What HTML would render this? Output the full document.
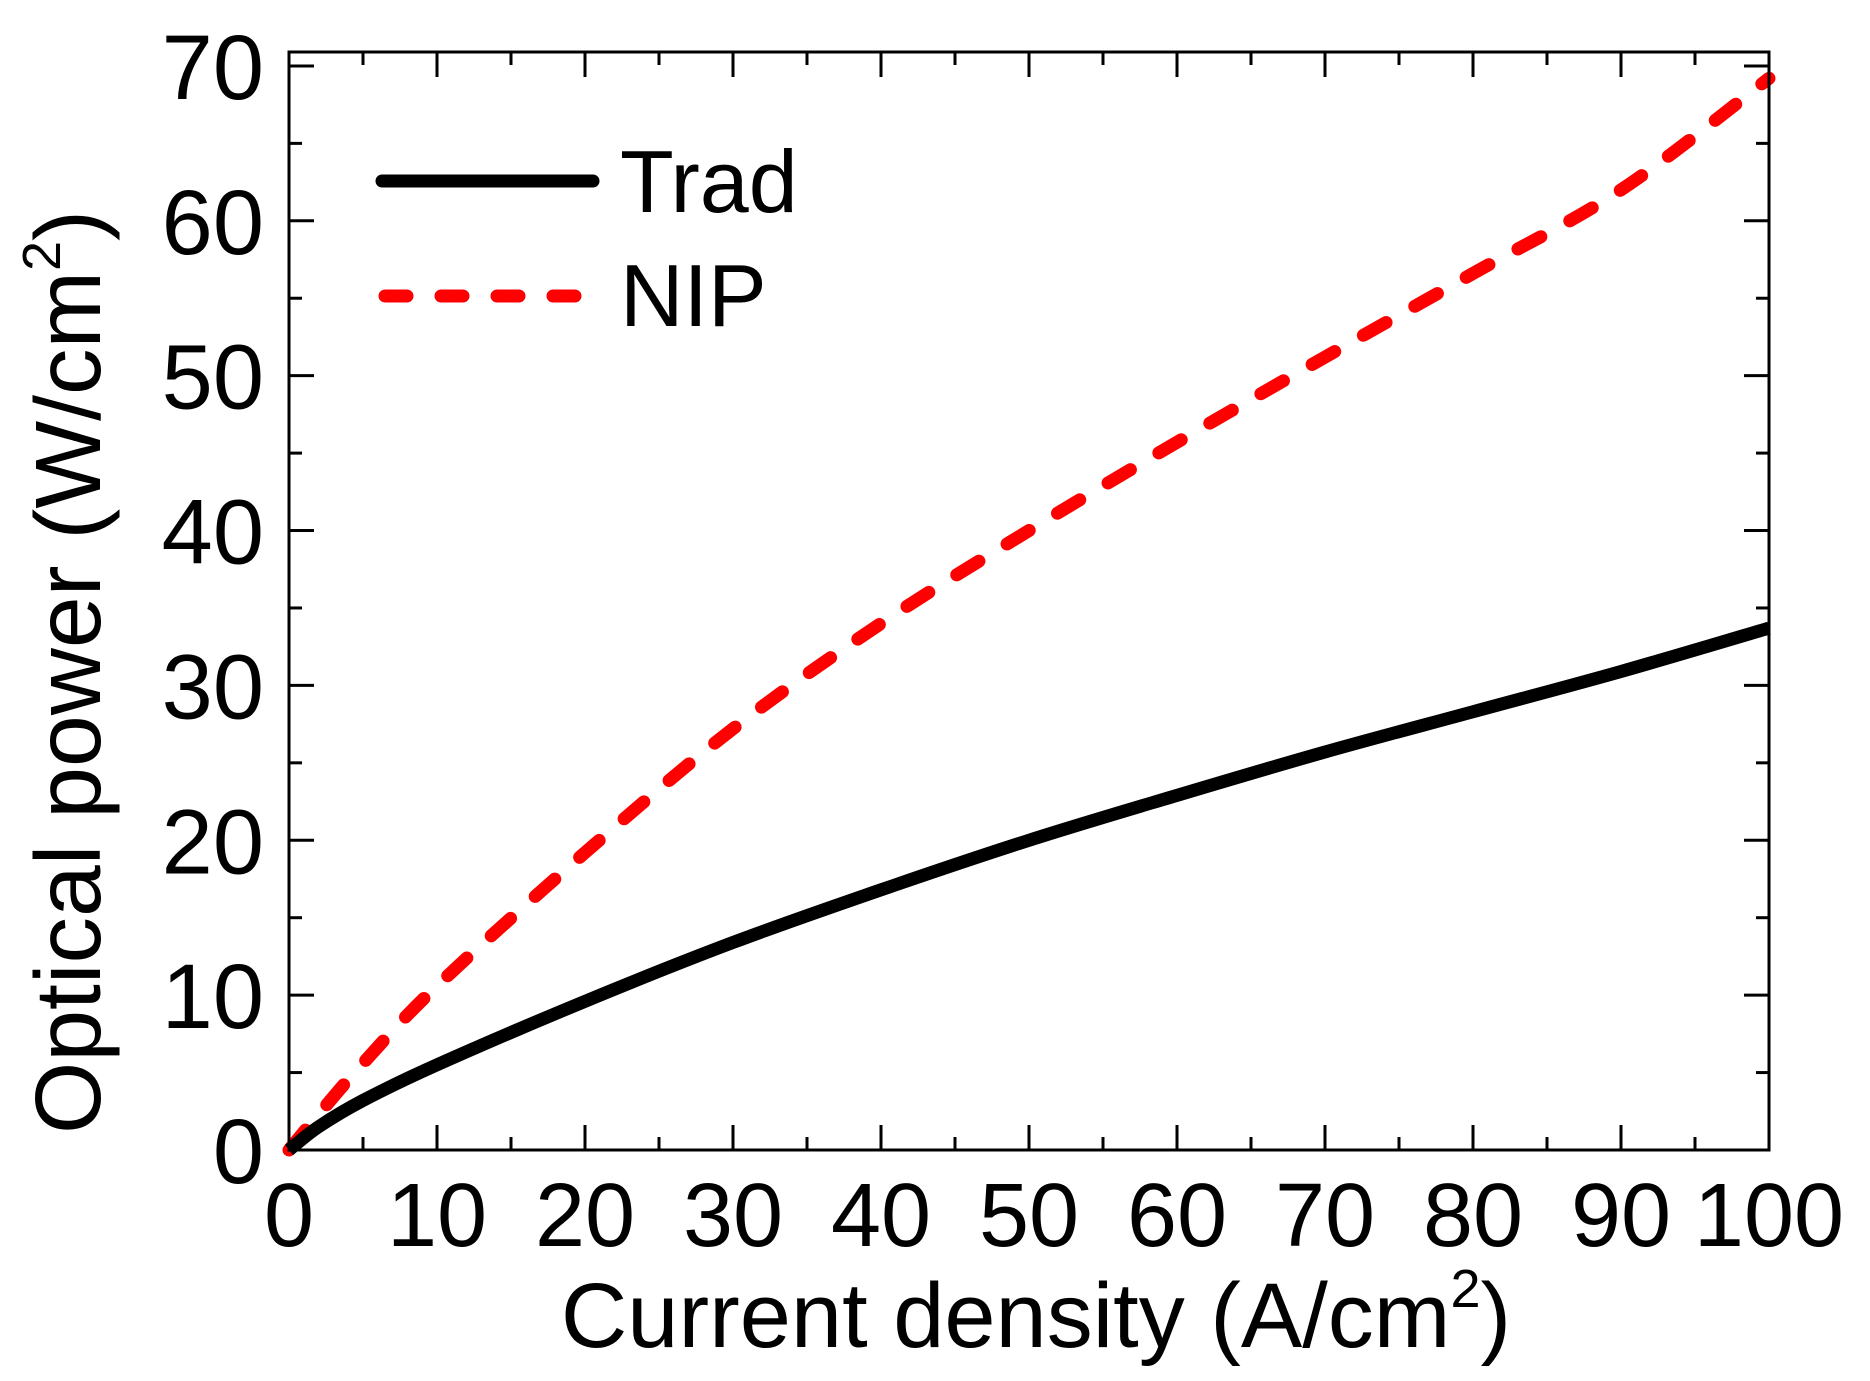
<!DOCTYPE html>
<html><head><meta charset="utf-8"><style>
html,body{margin:0;padding:0;background:#fff;}
svg{display:block;font-family:"Liberation Sans",Arial,sans-serif;}
</style></head><body>
<svg id="chart" width="1870" height="1381" viewBox="0 0 1870 1381" xmlns="http://www.w3.org/2000/svg">
<g id="marks"></g>
<g id="axes"></g>
<text x="1036" y="1347" font-size="92" text-anchor="middle">Current density (A/cm<tspan font-size="54" dy="-40">2</tspan><tspan dy="40">)</tspan></text>
<text transform="translate(100,672) rotate(-90)" font-size="93" text-anchor="middle">Optical power (W/cm<tspan font-size="54" dy="-40">2</tspan><tspan dy="40">)</tspan></text>
<g>
<line x1="382" y1="181" x2="593" y2="181" stroke="#000" stroke-width="13" stroke-linecap="round"/>
<text x="620" y="212" font-size="88">Trad</text>
<line x1="385" y1="296" x2="578" y2="296" stroke="#ff0000" stroke-width="13" stroke-linecap="round" stroke-dasharray="22 34"/>
<text x="620" y="326" font-size="88">NIP</text>
</g>
</svg>
<script>
const xValues = [0, 2, 5, 10, 20, 30, 40, 50, 60, 70, 80, 90, 100];
const tradValues = [0, 1.5, 3.2, 5.5, 9.6, 13.4, 16.8, 20.0, 22.9, 25.7, 28.3, 30.9, 33.7];
const nipValues = [0, 2.3, 5.6, 10.6, 19.2, 27.2, 34.0, 40.0, 45.7, 51.2, 56.6, 62.0, 69.2];
const xTickLabels = ["0","10","20","30","40","50","60","70","80","90","100"];
const yTickLabels = ["0","10","20","30","40","50","60","70"];

const L=289, R=1769, T=52, B=1150;
const xMin=0, xMax=100, yMin=0, yMax=70.9;
function sx(v){return L+(v-xMin)/(xMax-xMin)*(R-L);}
function sy(v){return B-(v-yMin)/(yMax-yMin)*(B-T);}
const NS="http://www.w3.org/2000/svg";
const marks=document.getElementById('marks');
const axes=document.getElementById('axes');
function mk(tag,attrs,parent){const e=document.createElementNS(NS,tag);for(const k in attrs)e.setAttribute(k,attrs[k]);parent.appendChild(e);return e;}

function pathFor(ys){
  const p=xValues.map((x,i)=>[sx(x),sy(ys[i])]);
  let d='M'+p[0][0]+','+p[0][1];
  for(let i=0;i<p.length-1;i++){
    const p0=p[Math.max(0,i-1)],p1=p[i],p2=p[i+1],p3=p[Math.min(p.length-1,i+2)];
    const c1=[p1[0]+(p2[0]-p0[0])/6,p1[1]+(p2[1]-p0[1])/6];
    const c2=[p2[0]-(p3[0]-p1[0])/6,p2[1]-(p3[1]-p1[1])/6];
    d+=' C'+c1[0]+','+c1[1]+' '+c2[0]+','+c2[1]+' '+p2[0]+','+p2[1];
  }
  return d;
}
const nip=mk('path',{d:pathFor(nipValues),fill:'none',stroke:'#ff0000','stroke-width':13,'stroke-linecap':'round','stroke-dasharray':'26 33'},marks);


const trad=mk('path',{d:pathFor(tradValues),fill:'none',stroke:'#000','stroke-width':13},marks);



const frame=mk('rect',{x:L,y:T,width:R-L,height:B-T,fill:'none',stroke:'#000','stroke-width':3},axes);



xTickLabels.forEach((lab,i)=>{
  const v=+lab, x=sx(v);
  const t1=mk('line',{x1:x,y1:B,x2:x,y2:B-25,stroke:'#000','stroke-width':3},axes);
  
  
  const t2=mk('line',{x1:x,y1:T,x2:x,y2:T+25,stroke:'#000','stroke-width':3},axes);
  
  
  if(i<xTickLabels.length-1){
    const xm=sx(v+5);
    const m1=mk('line',{x1:xm,y1:B,x2:xm,y2:B-13,stroke:'#000','stroke-width':3},axes);
    
    
    const m2=mk('line',{x1:xm,y1:T,x2:xm,y2:T+13,stroke:'#000','stroke-width':3},axes);
    
    
  }
  const tx=mk('text',{x:x,y:1246,'font-size':90,'text-anchor':'middle'},axes);
  tx.textContent=lab;
  
  
});
yTickLabels.forEach((lab,i)=>{
  const v=+lab, y=sy(v);
  const t1=mk('line',{x1:L,y1:y,x2:L+25,y2:y,stroke:'#000','stroke-width':3},axes);
  
  
  const t2=mk('line',{x1:R,y1:y,x2:R-25,y2:y,stroke:'#000','stroke-width':3},axes);
  
  
  if(i<yTickLabels.length-1){
    const ym=sy(v+5);
    const m1=mk('line',{x1:L,y1:ym,x2:L+13,y2:ym,stroke:'#000','stroke-width':3},axes);
    
    
    const m2=mk('line',{x1:R,y1:ym,x2:R-13,y2:ym,stroke:'#000','stroke-width':3},axes);
    
    
  }
  const ty=mk('text',{x:264,y:y+33,'font-size':92,'text-anchor':'end'},axes);
  ty.textContent=lab;
  
  
});
</script>
</body></html>
